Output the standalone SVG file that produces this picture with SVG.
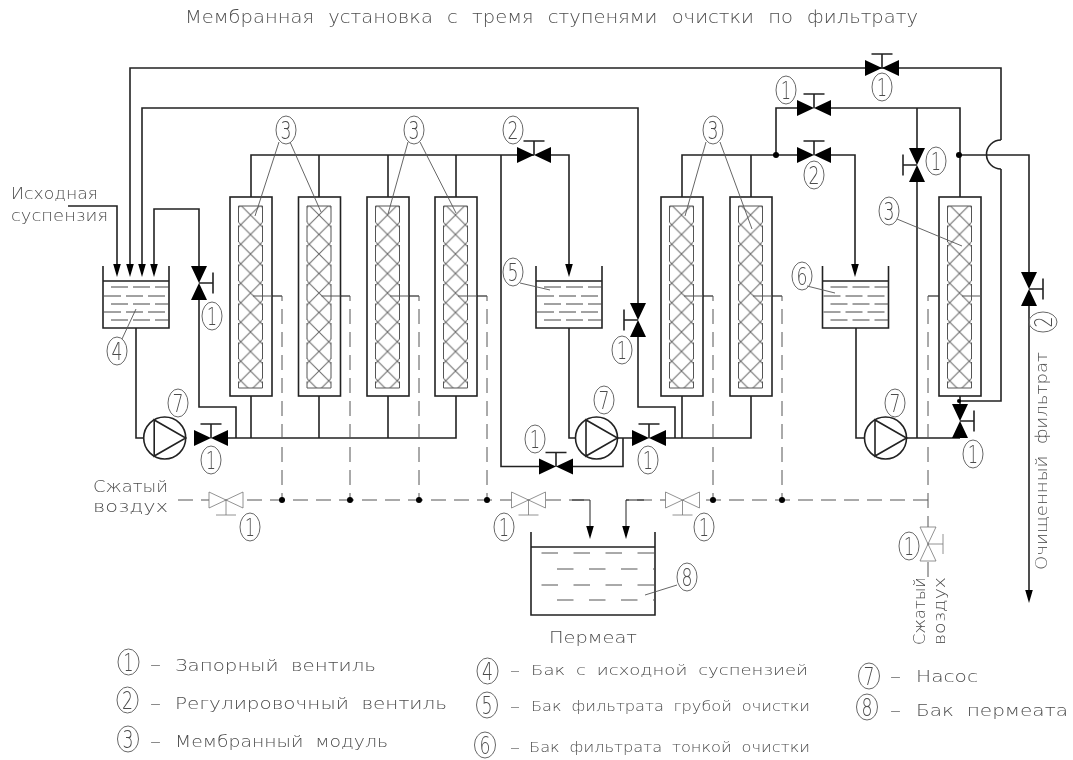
<svg xmlns="http://www.w3.org/2000/svg" xmlns:xlink="http://www.w3.org/1999/xlink" width="1073" height="760" viewBox="0 0 1073 760">
<style>
text{font-family:"DejaVu Sans","Liberation Sans",sans-serif;font-weight:200;fill:#4a4a4a}
.p{fill:none;stroke:#222;stroke-width:1.6}
.d{fill:none;stroke:#555;stroke-width:1;stroke-dasharray:15 8}
.t{fill:none;stroke:#444;stroke-width:1;stroke-dasharray:17 5}
.l{fill:none;stroke:#555;stroke-width:.9}
.e{fill:none;stroke:#666;stroke-width:1}
.n text{font-size:25px;text-anchor:middle}
.g{opacity:.99}
.s{font-size:16px;word-spacing:5px}
.m{font-size:14px;word-spacing:4px}
.h{fill:none;stroke:#666;stroke-width:1}
.o{fill:#fff;stroke:#222;stroke-width:1.6}
.v{fill:#000;stroke:none}
.a{fill:#fff;stroke:#777;stroke-width:.8}
.dot{fill:#000}
</style>
<defs>
<marker id="arr" markerUnits="userSpaceOnUse" markerWidth="16" markerHeight="10" refX="8" refY="4" orient="auto"><path d="M0,.2 L13,4 L0,7.800Z" fill="#000"/></marker>
<pattern id="hatch" patternUnits="userSpaceOnUse" x="10.750" y="8.250" width="19.500" height="19.500"><path class="h" d="M0 0L19.500 19.500M19.500 0L0 19.500"/></pattern>
<g id="mod">
<rect class="o" x="0" y="0" width="42" height="199"/>
<rect x="8.500" y="9" width="24" height="182" fill="url(#hatch)"/>
<path d="M8.500 9H32.500M8.500 191H32.500" fill="none" stroke="#555" stroke-width="1"/>
<path d="M8.500 9V191M32.500 9V191" fill="none" stroke="#555" stroke-width="1" stroke-dasharray="16.500 3"/>
<path d="M23 99H42" fill="none" stroke="#555" stroke-width="1"/>
</g>
<g id="tank">
<path class="p" d="M0 0V62H66V0M0 15H66"/>
<path class="t" d="M8 21H66M1 30H66M8 38H66M1 46H66M8 54H66"/>
</g>
<g id="pump">
<circle class="p" r="21"/>
<path class="p" d="M-10.500-18V18L21 0Z"/>
</g>
<g id="valve">
<path class="v" d="M-17-8L17 8V-8L-17 8Z"/>
<path class="p" d="M0 0V-14M-10.500-14H10.500"/>
</g>
<g id="air">
<path class="a" d="M-17-8L17 8V-8L-17 8Z"/>
<path class="a" d="M0 0V-15M-10-15H10"/>
</g>
</defs>

<g id="connectors">
<path class="p" marker-end="url(#arr)" d="M68 206H117V272"/>
<path class="p" marker-end="url(#arr)" d="M1001 140V68H130V272"/>
<path class="p" d="M1001 169V401H960"/>
<path class="p" d="M1001 140A14.500 14.500 0 0 0 1001 169"/>
<path class="p" marker-end="url(#arr)" d="M638 304V108H142V272"/>
<path class="p" d="M638 336V407H675V438"/>
<path class="p" marker-end="url(#arr)" d="M199 266V209H154V272"/>
<path class="p" d="M199 299V407H236V438"/>
<path class="p" d="M136 328V438H144M228 438H456V396M251 396V438M319 396V438M388 396V438"/>
<path class="p" d="M251 197V155H534M319 155V197M388 155V197M456 155V197"/>
<path class="p" marker-end="url(#arr)" d="M551 155H569V272"/>
<path class="p" d="M569 328V438H575M617 438H632M666 438H751V396M682 396V438"/>
<path class="p" d="M501 155V466.500H539M573 466.500H623V438"/>
<path class="p" d="M682 197V155H798M751 155V197"/>
<path class="p" marker-end="url(#arr)" d="M831 155H855V272"/>
<path class="p" d="M776 155V108H798M831 108H960V197M917 108V149M917 181V438M856 328V438H864M906 438H960M960 396V407"/>
<path class="p" d="M959 155H1029V272"/>
<path class="p" marker-end="url(#arr)" d="M1029 306V598"/>
<circle class="dot" cx="776" cy="155" r="3"/>
<circle class="dot" cx="959" cy="155" r="3"/>
<circle class="dot" cx="959" cy="401" r="2"/>
<g id="air-lines">
<path class="d" d="M178 500H590"/>
<path fill="none" stroke="#222" stroke-width="1" marker-end="url(#arr)" d="M572 500H590V534"/>
<path class="d" d="M928 500H626"/>
<path fill="none" stroke="#222" stroke-width="1" marker-end="url(#arr)" d="M644 500H626V534"/>
<path class="d" d="M272 296H282V500M340 296H350V500M409 296H419V500M477 296H487V500M703 296H713V500M772 296H782V500"/>
<path class="d" d="M938 296H928V577"/>
<path d="M272 296H282M340.500 296H350M409 296H419M477 296H487M703 296H713M772 296H782M928 296H960" fill="none" stroke="#555" stroke-width="1"/>
<circle class="dot" cx="282" cy="500" r="3"/>
<circle class="dot" cx="350" cy="500" r="3"/>
<circle class="dot" cx="419" cy="500" r="3"/>
<circle class="dot" cx="487" cy="500" r="3"/>
<circle class="dot" cx="713" cy="500" r="3"/>
<circle class="dot" cx="782" cy="500" r="3"/>
</g>
</g>

<g id="modules">
<use id="module-1" xlink:href="#mod" href="#mod" x="230" y="197"/>
<use id="module-2" xlink:href="#mod" href="#mod" x="298.500" y="197"/>
<use id="module-3" xlink:href="#mod" href="#mod" x="367" y="197"/>
<use id="module-4" xlink:href="#mod" href="#mod" x="435" y="197"/>
<use id="module-5" xlink:href="#mod" href="#mod" x="661" y="197"/>
<use id="module-6" xlink:href="#mod" href="#mod" x="730" y="197"/>
<use id="module-7" xlink:href="#mod" href="#mod" x="939" y="197"/>
</g>
<g id="tanks">
<use id="tank-4" href="#tank" x="103" y="266"/>
<use id="tank-5" href="#tank" x="536" y="266"/>
<use id="tank-6" href="#tank" x="822.500" y="266"/>
<g id="tank-8">
<path class="p" d="M531 532V615H655V532M531 547H655"/>
<path class="d" style="stroke-dasharray:16.500 15.500" d="M541.500 553H655M557 569H655M541.500 585H655M557 600H655"/>
</g>
</g>
<g id="pumps">
<use id="pump-1" href="#pump" x="164.700" y="438"/>
<use id="pump-2" href="#pump" x="596.500" y="438"/>
<use id="pump-3" href="#pump" x="885.500" y="438"/>
</g>
<g id="valves">
<use id="v1" href="#valve" transform="translate(882 68)"/>
<use id="v2" href="#valve" transform="translate(814 108)"/>
<use id="v3" href="#valve" transform="translate(814 155)"/>
<use id="v4" href="#valve" transform="translate(534 155)"/>
<use id="v5" href="#valve" transform="translate(211 438)"/>
<use id="v6" href="#valve" transform="translate(649 438)"/>
<use id="v7" href="#valve" transform="translate(556 466.500)"/>
<use id="v8" href="#valve" transform="translate(199 283) rotate(90)"/>
<use id="v9" href="#valve" transform="translate(638 320) rotate(-90)"/>
<use id="v10" href="#valve" transform="translate(917 165) rotate(-90)"/>
<use id="v11" href="#valve" transform="translate(960 421) rotate(90)"/>
<use id="v12" href="#valve" transform="translate(1029 289) rotate(90)"/>
<use id="a1" href="#air" transform="translate(226 500) rotate(180)"/>
<use id="a2" href="#air" transform="translate(528.500 500) rotate(180)"/>
<use id="a3" href="#air" transform="translate(682.500 500) rotate(180)"/>
<use id="a4" href="#air" transform="translate(928 544) rotate(90)"/>
</g>
<g id="leaders">
<path class="l" d="M279 142L255 216M290 142L321 212M408 142L388 214M420 142L456 213M706 142L685 216M720 142L752 229M897 219L962 246M122 339L136 309M520 283L550 290M807 286L835 293M677 585L645 595"/>
</g>

<g id="labels" class="n g">
<g id="c1"><ellipse class="e" cx="212" cy="316" rx="10" ry="14"/><text x="212" y="325" textLength="10" lengthAdjust="spacingAndGlyphs">1</text></g>
<g id="c2"><ellipse class="e" cx="211" cy="460" rx="10" ry="14"/><text x="211" y="469" textLength="10" lengthAdjust="spacingAndGlyphs">1</text></g>
<g id="c3"><ellipse class="e" cx="250" cy="527" rx="10" ry="14"/><text x="250" y="536" textLength="10" lengthAdjust="spacingAndGlyphs">1</text></g>
<g id="c4"><ellipse class="e" cx="504" cy="527" rx="10" ry="14"/><text x="504" y="536" textLength="10" lengthAdjust="spacingAndGlyphs">1</text></g>
<g id="c5"><ellipse class="e" cx="704" cy="527" rx="10" ry="14"/><text x="704" y="536" textLength="10" lengthAdjust="spacingAndGlyphs">1</text></g>
<g id="c6"><ellipse class="e" cx="535" cy="439" rx="10" ry="14"/><text x="535" y="448" textLength="10" lengthAdjust="spacingAndGlyphs">1</text></g>
<g id="c7"><ellipse class="e" cx="648" cy="460" rx="10" ry="14"/><text x="648" y="469" textLength="10" lengthAdjust="spacingAndGlyphs">1</text></g>
<g id="c8"><ellipse class="e" cx="622" cy="350" rx="10" ry="14"/><text x="622" y="359" textLength="10" lengthAdjust="spacingAndGlyphs">1</text></g>
<g id="c9"><ellipse class="e" cx="882" cy="87" rx="10" ry="14"/><text x="882" y="96" textLength="10" lengthAdjust="spacingAndGlyphs">1</text></g>
<g id="c10"><ellipse class="e" cx="786" cy="90" rx="10" ry="14"/><text x="786" y="99" textLength="10" lengthAdjust="spacingAndGlyphs">1</text></g>
<g id="c11"><ellipse class="e" cx="936" cy="161" rx="10" ry="14"/><text x="936" y="170" textLength="10" lengthAdjust="spacingAndGlyphs">1</text></g>
<g id="c12"><ellipse class="e" cx="973" cy="454" rx="10" ry="14"/><text x="973" y="463" textLength="10" lengthAdjust="spacingAndGlyphs">1</text></g>
<g id="c13"><ellipse class="e" cx="909" cy="546" rx="10" ry="14"/><text x="909" y="555" textLength="10" lengthAdjust="spacingAndGlyphs">1</text></g>
<g id="c14"><ellipse class="e" cx="513" cy="130" rx="10" ry="14"/><text x="513" y="139" textLength="11" lengthAdjust="spacingAndGlyphs">2</text></g>
<g id="c15"><ellipse class="e" cx="814" cy="175" rx="10" ry="14"/><text x="814" y="184" textLength="11" lengthAdjust="spacingAndGlyphs">2</text></g>
<g id="c16" transform="rotate(-90 1043 322)"><ellipse class="e" cx="1043" cy="322" rx="10" ry="14"/><text x="1043" y="331" textLength="11" lengthAdjust="spacingAndGlyphs">2</text></g>
<g id="c17"><ellipse class="e" cx="286" cy="130" rx="10" ry="14"/><text x="286" y="139" textLength="11" lengthAdjust="spacingAndGlyphs">3</text></g>
<g id="c18"><ellipse class="e" cx="414" cy="130" rx="10" ry="14"/><text x="414" y="139" textLength="11" lengthAdjust="spacingAndGlyphs">3</text></g>
<g id="c19"><ellipse class="e" cx="713" cy="130" rx="10" ry="14"/><text x="713" y="139" textLength="11" lengthAdjust="spacingAndGlyphs">3</text></g>
<g id="c20"><ellipse class="e" cx="889" cy="211" rx="10" ry="14"/><text x="889" y="220" textLength="11" lengthAdjust="spacingAndGlyphs">3</text></g>
<g id="c21"><ellipse class="e" cx="117" cy="351" rx="10" ry="14"/><text x="117" y="360" textLength="11" lengthAdjust="spacingAndGlyphs">4</text></g>
<g id="c22"><ellipse class="e" cx="513" cy="272" rx="10" ry="14"/><text x="513" y="281" textLength="11" lengthAdjust="spacingAndGlyphs">5</text></g>
<g id="c23"><ellipse class="e" cx="802" cy="276" rx="10" ry="14"/><text x="802" y="285" textLength="11" lengthAdjust="spacingAndGlyphs">6</text></g>
<g id="c24"><ellipse class="e" cx="178" cy="403" rx="10" ry="14"/><text x="178" y="412" textLength="11" lengthAdjust="spacingAndGlyphs">7</text></g>
<g id="c25"><ellipse class="e" cx="604" cy="400" rx="10" ry="14"/><text x="604" y="409" textLength="11" lengthAdjust="spacingAndGlyphs">7</text></g>
<g id="c26"><ellipse class="e" cx="895" cy="403" rx="10" ry="14"/><text x="895" y="412" textLength="11" lengthAdjust="spacingAndGlyphs">7</text></g>
<g id="c27"><ellipse class="e" cx="687" cy="577" rx="10" ry="14"/><text x="687" y="586" textLength="11" lengthAdjust="spacingAndGlyphs">8</text></g>
<g id="leg1"><ellipse class="e" cx="128.500" cy="662" rx="10.500" ry="13"/><text x="128.500" y="671" textLength="10" lengthAdjust="spacingAndGlyphs">1</text></g>
<g id="leg2"><ellipse class="e" cx="127.500" cy="700" rx="10.500" ry="13"/><text x="127.500" y="709" textLength="11" lengthAdjust="spacingAndGlyphs">2</text></g>
<g id="leg3"><ellipse class="e" cx="128" cy="739" rx="10.500" ry="13"/><text x="128" y="748" textLength="11" lengthAdjust="spacingAndGlyphs">3</text></g>
<g id="leg4"><ellipse class="e" cx="487.500" cy="671" rx="10.500" ry="13"/><text x="487.500" y="680" textLength="11" lengthAdjust="spacingAndGlyphs">4</text></g>
<g id="leg5"><ellipse class="e" cx="487" cy="705" rx="10.500" ry="13"/><text x="487" y="714" textLength="11" lengthAdjust="spacingAndGlyphs">5</text></g>
<g id="leg6"><ellipse class="e" cx="485" cy="745" rx="10.500" ry="13"/><text x="485" y="754" textLength="11" lengthAdjust="spacingAndGlyphs">6</text></g>
<g id="leg7"><ellipse class="e" cx="869" cy="676" rx="10.500" ry="13"/><text x="869" y="685" textLength="11" lengthAdjust="spacingAndGlyphs">7</text></g>
<g id="leg8"><ellipse class="e" cx="867" cy="707" rx="10.500" ry="13"/><text x="867" y="716" textLength="11" lengthAdjust="spacingAndGlyphs">8</text></g>
</g>

<g id="texts" class="g">
<text x="185" y="22.500" style="font-size:17px;word-spacing:7px" textLength="733" lengthAdjust="spacingAndGlyphs">Мембранная установка с тремя ступенями очистки по фильтрату</text>
<text x="11" y="199" class="s" textLength="87" lengthAdjust="spacingAndGlyphs">Исходная</text>
<text x="11" y="221" class="s" textLength="97" lengthAdjust="spacingAndGlyphs">суспензия</text>
<text x="93" y="492" class="s" textLength="75" lengthAdjust="spacingAndGlyphs">Сжатый</text>
<text x="93" y="512" class="s" textLength="75" lengthAdjust="spacingAndGlyphs">воздух</text>
<text x="549" y="643" class="s" textLength="88" lengthAdjust="spacingAndGlyphs">Пермеат</text>
<text transform="translate(925 645) rotate(-90)" class="s" textLength="68" lengthAdjust="spacingAndGlyphs">Сжатый</text>
<text transform="translate(945 645) rotate(-90)" class="s" textLength="68" lengthAdjust="spacingAndGlyphs">воздух</text>
<text transform="translate(1047 570) rotate(-90)" class="s" textLength="218" lengthAdjust="spacingAndGlyphs">Очищенный фильтрат</text>
<text x="150" y="670" class="s" textLength="11" lengthAdjust="spacingAndGlyphs">–</text>
<text x="175" y="670.500" class="s" textLength="201" lengthAdjust="spacingAndGlyphs">Запорный вентиль</text>
<text x="150" y="709" class="s" textLength="11" lengthAdjust="spacingAndGlyphs">–</text>
<text x="175" y="709" class="s" textLength="272" lengthAdjust="spacingAndGlyphs">Регулировочный вентиль</text>
<text x="150" y="747" class="s" textLength="11" lengthAdjust="spacingAndGlyphs">–</text>
<text x="175" y="747" class="s" textLength="213" lengthAdjust="spacingAndGlyphs">Мембранный модуль</text>
<text x="510" y="675" class="m" textLength="10" lengthAdjust="spacingAndGlyphs">–</text>
<text x="531" y="675" class="m" textLength="277" lengthAdjust="spacingAndGlyphs">Бак с исходной суспензией</text>
<text x="510" y="711" class="m" textLength="10" lengthAdjust="spacingAndGlyphs">–</text>
<text x="531" y="711" class="m" textLength="279" lengthAdjust="spacingAndGlyphs">Бак фильтрата грубой очистки</text>
<text x="510" y="752" class="m" textLength="10" lengthAdjust="spacingAndGlyphs">–</text>
<text x="529" y="752" class="m" textLength="281" lengthAdjust="spacingAndGlyphs">Бак фильтрата тонкой очистки</text>
<text x="890" y="682" class="s" textLength="11" lengthAdjust="spacingAndGlyphs">–</text>
<text x="916" y="682" class="s" textLength="62" lengthAdjust="spacingAndGlyphs">Насос</text>
<text x="890" y="716" class="s" textLength="11" lengthAdjust="spacingAndGlyphs">–</text>
<text x="916" y="716" class="s" textLength="152" lengthAdjust="spacingAndGlyphs">Бак пермеата</text>
</g>
</svg>
